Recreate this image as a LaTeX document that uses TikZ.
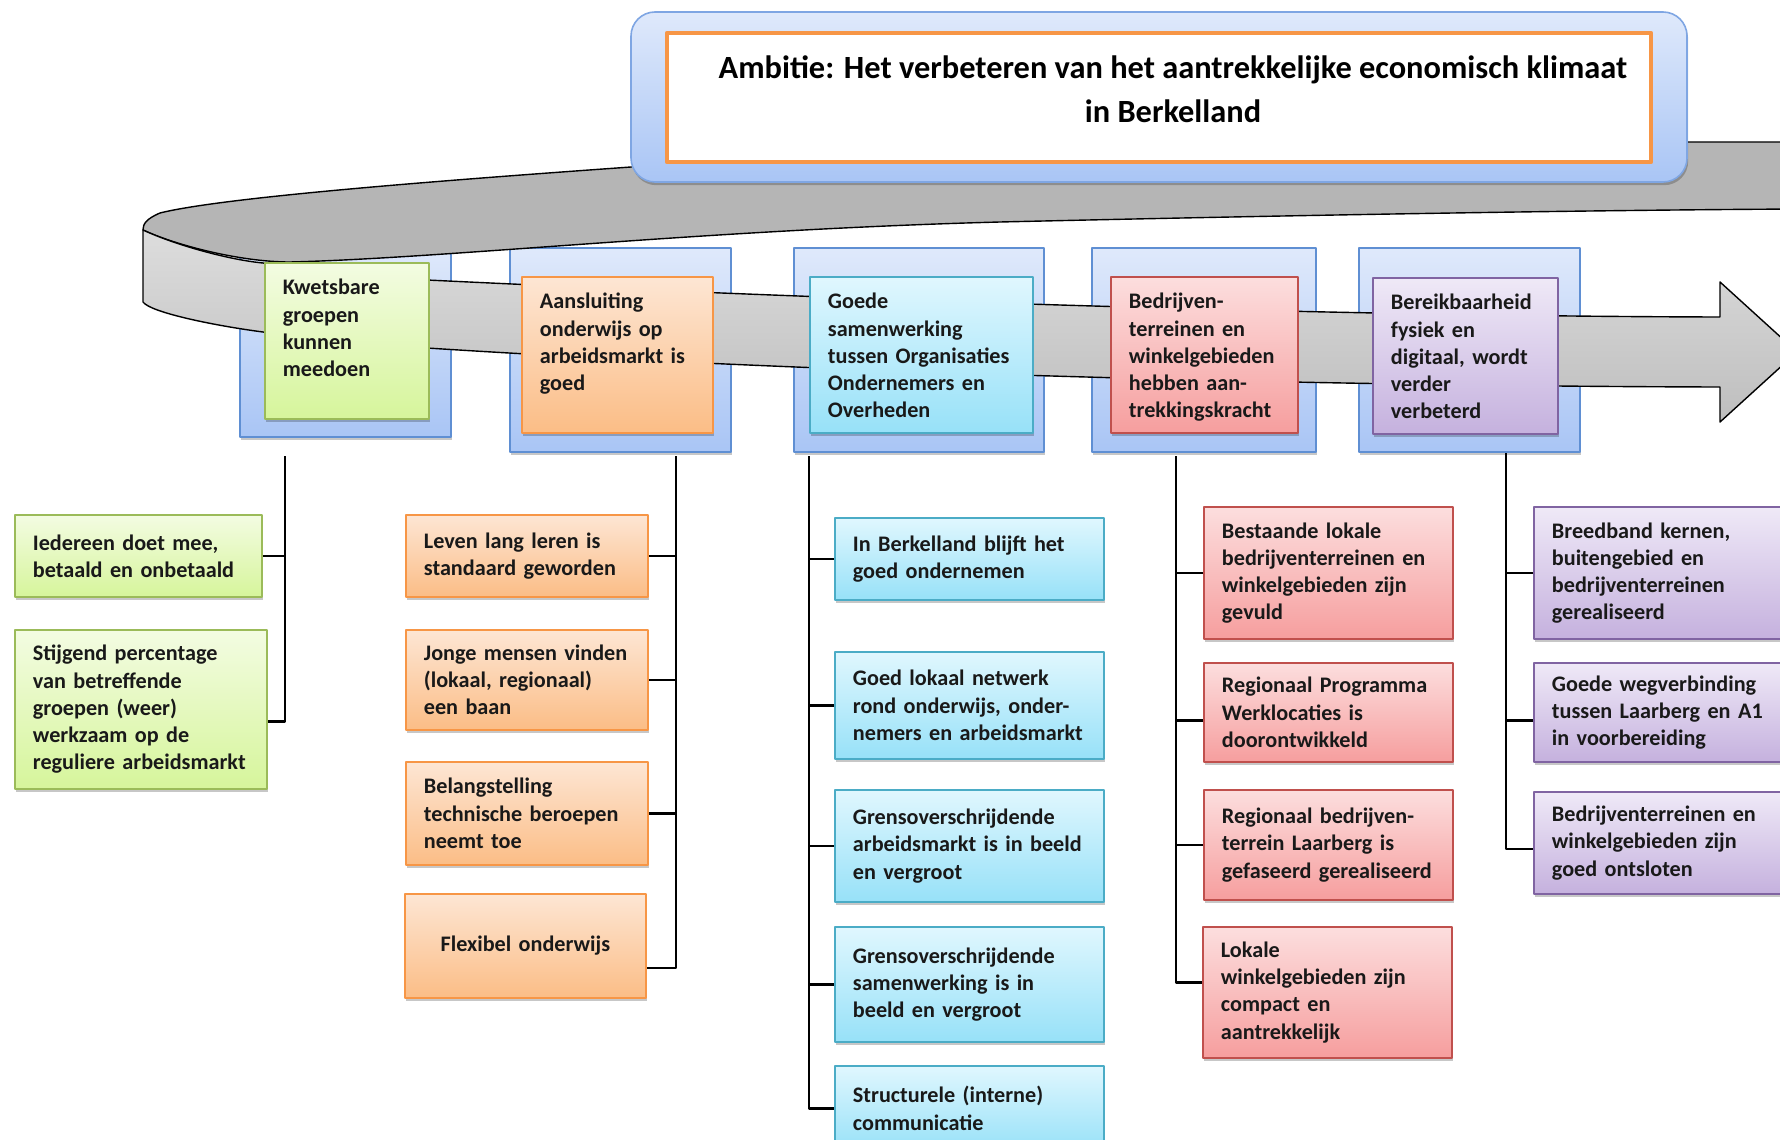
\documentclass[tikz,border=0pt]{standalone}
\usepackage{fontspec}
\setmainfont{Carlito}
\usetikzlibrary{shadows}

\definecolor{kaderrand}{HTML}{5F8FD3}
\definecolor{titelrand}{HTML}{7FA6E3}
\definecolor{kaderboven}{HTML}{DFE9FB}
\definecolor{kaderonder}{HTML}{A9C5F5}
\definecolor{groenrand}{HTML}{9BBB59}
\definecolor{groenboven}{HTML}{F3FCE2}
\definecolor{groenonder}{HTML}{D6F59B}
\definecolor{oranjerand}{HTML}{F79646}
\definecolor{oranjeboven}{HTML}{FDE6D4}
\definecolor{oranjeonder}{HTML}{FBBD86}
\definecolor{blauwrand}{HTML}{4BACC6}
\definecolor{blauwboven}{HTML}{E0F7FE}
\definecolor{blauwonder}{HTML}{97E1F8}
\definecolor{roodrand}{HTML}{C0504D}
\definecolor{roodboven}{HTML}{FCDEDE}
\definecolor{roodonder}{HTML}{F69E9E}
\definecolor{paarsrand}{HTML}{8064A2}
\definecolor{paarsboven}{HTML}{EFE9F7}
\definecolor{paarsonder}{HTML}{C5B1DE}
\definecolor{lintboven}{HTML}{B5B5B5}
\definecolor{lintlicht}{HTML}{DDDDDD}
\definecolor{lintdonker}{HTML}{BEBEBE}

\begin{document}
\begin{tikzpicture}[x=0.5pt, y=-0.5pt, line join=round,
    schaduw/.style={drop shadow={shadow xshift=0.6pt, shadow yshift=-1.6pt, fill=black, opacity=0.22}},
    tekst/.style={font=\fontsize{11.1}{13.6}\selectfont\bfseries, text=black!90, align=left},
    kader/.style={draw=kaderrand, line width=0.8pt, top color=kaderboven, bottom color=kaderonder, schaduw},
    doel/.style={tekst, schaduw, anchor=north west, line width=0.9pt, inner xsep=9pt, inner ysep=8pt, text height=8pt, text depth=54pt},
    sub/.style={tekst, schaduw, anchor=north west, line width=0.9pt, inner xsep=9pt, inner ysep=0pt},
    groen/.style={draw=groenrand, top color=groenboven, bottom color=groenonder},
    oranje/.style={draw=oranjerand, top color=oranjeboven, bottom color=oranjeonder},
    blauw/.style={draw=blauwrand, top color=blauwboven, bottom color=blauwonder},
    rood/.style={draw=roodrand, top color=roodboven, bottom color=roodonder},
    paars/.style={draw=paarsrand, top color=paarsboven, bottom color=paarsonder},
    boom/.style={line width=1.2pt, black}]
        \useasboundingbox (0,0) rectangle (1780,1139);

        % Blauwe kaders achter de doelen
        \draw[kader] (240,248) rectangle (451,437);
        \draw[kader] (510,248) rectangle (731,452);
        \draw[kader] (794,248) rectangle (1044,452);
        \draw[kader] (1092,248) rectangle (1316,452);
        \draw[kader] (1359,248) rectangle (1580,452);

        % Lint: bovenkant (achterste deel)
        \draw[line width=0.7pt, fill=lintboven] (1800,142) -- (1687,142) -- (631,167)
            .. controls (420,182) and (220,198) .. (160,213)
            .. controls (146,219) and (143,224) .. (143,230)
            .. controls (175,245) and (240,262) .. (290,262)
            .. controls (450,258) and (700,230) .. (1000,222)
            .. controls (1300,215) and (1600,210) .. (1800,209) -- cycle;

        % Lint: voorkant met pijlpunt
        \draw[line width=0.7pt, top color=lintlicht, bottom color=lintdonker] (143,230)
            .. controls (175,245) and (230,260) .. (263,263)
            .. controls (330,272) and (400,278) .. (427,280)
            .. controls (800,298) and (1300,316) .. (1720,317)
            -- (1720,282) -- (1797,352) -- (1720,422) -- (1720,387)
            .. controls (1300,386) and (800,372) .. (427,348)
            .. controls (350,343) and (300,337) .. (263,332)
            .. controls (210,325) and (150,312) .. (143,302) -- cycle;

        % Ambitie
        \draw[kader, draw=titelrand, rounded corners=12pt] (631,12) rectangle (1687,182);
        \draw[draw=oranjerand, line width=2.2pt, fill=white] (667,33) rectangle (1651,162);
        \node[font=\fontsize{16.2}{22}\selectfont\bfseries, align=center, text depth=8pt] (ambitie) at (1173,97.5)
              {Ambitie: Het verbeteren van het aantrekkelijke economisch klimaat\\in Berkelland};

        % Doelen
        \node[doel, groen, text width=64pt] (kwetsbaar) at (264,262) {Kwetsbare\\groepen\\kunnen\\meedoen};
        \node[doel, oranje, text width=77.5pt] (aansluiting) at (521,276) {Aansluiting\\onderwijs op\\arbeidsmarkt is\\goed};
        \node[doel, blauw, text width=93.5pt] (samenwerking) at (809,276) {Goede\\samenwerking\\tussen Organisaties\\Ondernemers en\\Overheden};
        \node[doel, rood, text width=75.5pt] (aantrekking) at (1110,276) {Bedrijven-\\terreinen en\\winkelgebieden\\hebben aan-\\trekkingskracht};
        \node[doel, paars, text width=74.5pt] (bereikbaar) at (1372,277) {Bereikbaarheid\\fysiek en\\digitaal, wordt\\verder\\verbeterd};

        % Resultaten: kwetsbare groepen
        \node[sub, groen, text width=105.5pt, minimum height=41pt] (g1) at (14,514) {Iedereen doet mee,\\betaald en onbetaald};
        \node[sub, groen, text width=108pt, minimum height=79.5pt] (g2) at (14,629) {Stijgend percentage\\van betreffende\\groepen (weer)\\werkzaam op de\\reguliere arbeidsmarkt};
        \coordinate (gtop) at (285,456);
        \draw[boom] (gtop) |- ([yshift=-6pt]g2.east);
        \draw[boom] (g1.east) -- (g1.east -| gtop);

        % Resultaten: onderwijs en arbeidsmarkt
        \node[sub, oranje, text width=103pt, minimum height=41pt] (o1) at (405,514) {Leven lang leren is\\standaard geworden};
        \node[sub, oranje, text width=103pt, minimum height=50pt] (o2) at (405,629) {Jonge mensen vinden\\(lokaal, regionaal)\\een baan};
        \node[sub, oranje, text width=103pt, minimum height=51.5pt] (o3) at (405,761) {Belangstelling\\technische beroepen\\neemt toe};
        \node[sub, oranje, text width=102.5pt, minimum height=52pt, align=center] (o4) at (404,893) {Flexibel onderwijs};
        \coordinate (otop) at (676,456);
        \draw[boom] (otop) |- ([yshift=-11pt]o4.east);
        \foreach \n in {o1,o2,o3}
            \draw[boom] (\n.east) -- (\n.east -| otop);

        % Resultaten: samenwerking
        \node[sub, blauw, text width=116.5pt, minimum height=41pt] (c1) at (834,517) {In Berkelland blijft het\\goed ondernemen};
        \node[sub, blauw, text width=116.5pt, minimum height=53.5pt] (c2) at (834,651) {Goed lokaal netwerk\\rond onderwijs, onder-\\nemers en arbeidsmarkt};
        \node[sub, blauw, text width=116.5pt, minimum height=56pt] (c3) at (834,789) {Grensoverschrijdende\\arbeidsmarkt is in beeld\\en vergroot};
        \node[sub, blauw, text width=116.5pt, minimum height=57.5pt] (c4) at (834,926) {Grensoverschrijdende\\samenwerking is in\\beeld en vergroot};
        \node[sub, blauw, text width=116.5pt, minimum height=42.5pt] (c5) at (834,1065) {Structurele (interne)\\communicatie};
        \coordinate (ctop) at (809,456);
        \draw[boom] (ctop) |- (c5.west);
        \foreach \n in {c1,c2,c3,c4}
            \draw[boom] (\n.west) -- (\n.west -| ctop);

        % Resultaten: bedrijventerreinen en winkelgebieden
        \node[sub, rood, text width=106.5pt, minimum height=66pt] (r1) at (1203,506) {Bestaande lokale\\bedrijventerreinen en\\winkelgebieden zijn\\gevuld};
        \node[sub, rood, text width=106.5pt, minimum height=49.5pt] (r2) at (1203,662) {Regionaal Programma\\Werklocaties is\\doorontwikkeld};
        \node[sub, rood, text width=106.5pt, minimum height=55pt] (r3) at (1203,789) {Regionaal bedrijven-\\terrein Laarberg is\\gefaseerd gerealiseerd};
        \node[sub, rood, text width=106.5pt, minimum height=65.5pt] (r4) at (1202,926) {Lokale\\winkelgebieden zijn\\compact en\\aantrekkelijk};
        \coordinate (rtop) at (1176,456);
        \draw[boom] (rtop) |- ([yshift=5pt]r4.west);
        \draw[boom] (r1.west) -- (r1.west -| rtop);
        \draw[boom] ([yshift=-4pt]r2.west) -- ([yshift=-4pt]r2.west -| rtop);
        \draw[boom] (r3.west) -- (r3.west -| rtop);

        % Resultaten: bereikbaarheid
        \node[sub, paars, text width=117pt, minimum height=66pt] (p1) at (1533,506) {Breedband kernen,\\buitengebied en\\bedrijventerreinen\\gerealiseerd};
        \node[sub, paars, text width=117pt, minimum height=49.5pt] (p2) at (1533,662) {Goede wegverbinding\\tussen Laarberg en A1\\in voorbereiding};
        \node[sub, paars, text width=117pt, minimum height=51pt] (p3) at (1533,791) {Bedrijventerreinen en\\winkelgebieden zijn\\goed ontsloten};
        \coordinate (ptop) at (1506,453);
        \draw[boom] (ptop) |- ([yshift=-3pt]p3.west);
        \draw[boom] (p1.west) -- (p1.west -| ptop);
        \draw[boom] ([yshift=-4pt]p2.west) -- ([yshift=-4pt]p2.west -| ptop);
\end{tikzpicture}
\end{document}
